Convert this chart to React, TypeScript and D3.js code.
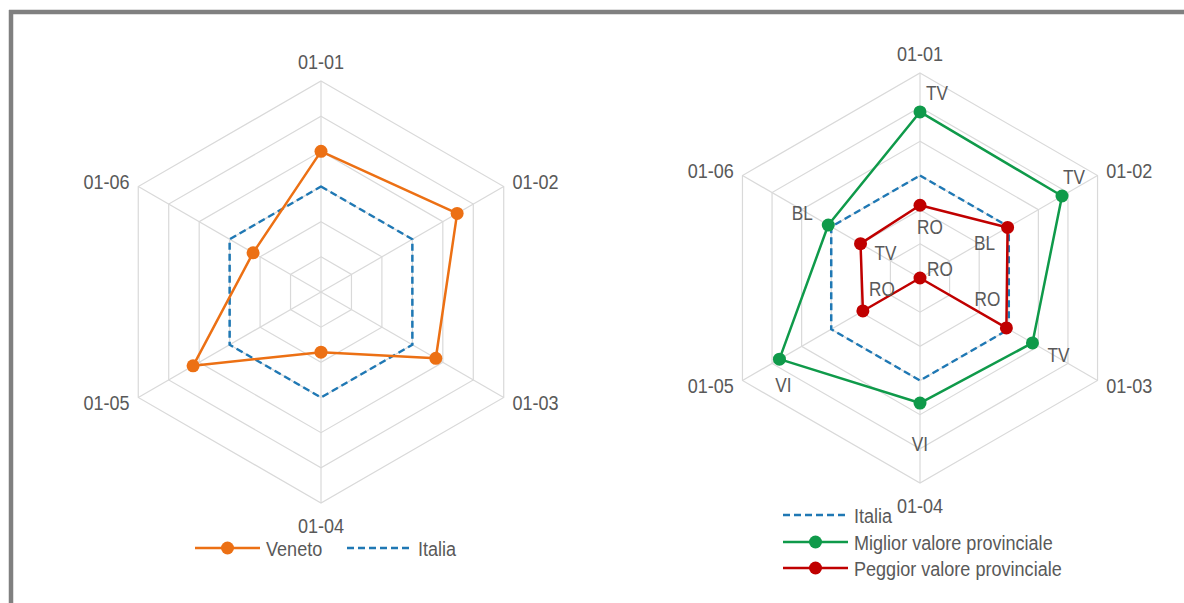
import React from "react";
import * as d3 from "d3";

// ---------- DATA ----------
const categories = ["01-01", "01-02", "01-03", "01-04", "01-05", "01-06"];
const veneto = [110, 114.7, 107.7, 87.1, 112, 92.3];
const italia = [100, 100, 100, 100, 100, 100];
const migliore = [118.6, 118, 108, 106.6, 117.5, 101];
const peggiore = [91.3, 99.6, 99.2, 70, 89.3, 90.1];
const miglioreProv = ["TV", "TV", "TV", "VI", "VI", "BL"];
const peggioreProv = ["RO", "BL", "RO", "RO", "RO", "TV"];
const ringTicks = [80, 90, 100, 110, 120, 130];
const domainMin = 70;
const domainMax = 130;

// ---------- LAYOUT / STYLE ----------
const W = 1184;
const H = 603;
const FONT = "'Liberation Sans Narrow', 'Arial Narrow', 'Liberation Sans', Arial, sans-serif";
const NARROW = 0.86; // horizontal squeeze to imitate a narrow face
const TEXT = "#595959";
const GRID = "#d9d9d9";
const C_ORANGE = "#ec7014";
const C_BLUE = "#1f78b4";
const C_GREEN = "#0f9a4a";
const C_RED = "#c00000";
const DASH = "7,4";
const LW = 2.5;
const MR = 6.5;

// label nudges (pixels) for province labels
const bestNudges: [number, number][] = [[17, -19], [12, -19], [26, 12], [0, 41], [4, 26], [-26, -12]];
const worstNudges: [number, number][] = [[10, 22], [-23, 15], [-19, -29], [20, -9], [19, -22], [25, 9]];

function NText({ x, y, anchor = "start", size = 21, children }: { x: number; y: number; anchor?: string; size?: number; children: React.ReactNode }) {
  return (
    <text
      transform={`translate(${x},${y}) scale(${NARROW},1)`}
      dy="0.36em"
      textAnchor={anchor}
      fontSize={size}
      fill={TEXT}
      fontFamily={FONT}
    >
      {children}
    </text>
  );
}

type Series = { values: number[]; color: string; dashed?: boolean; markers?: boolean; labels?: string[]; nudges?: [number, number][] };

function Radar({ cx, cy, R, series }: { cx: number; cy: number; R: number; series: Series[] }) {
  const n = categories.length;
  const r = d3.scaleLinear().domain([domainMin, domainMax]).range([0, R]);
  const angle = (i: number) => (i * 2 * Math.PI) / n;
  const pt = (i: number, v: number): [number, number] => {
    const a = angle(i);
    const rr = r(v);
    return [cx + rr * Math.sin(a), cy - rr * Math.cos(a)];
  };
  const radial = d3
    .lineRadial<number>()
    .angle((_, i) => angle(i))
    .radius((d) => r(d))
    .curve(d3.curveLinearClosed);

  return (
    <g>
      {ringTicks.map((t) => (
        <path
          key={t}
          d={radial(categories.map(() => t)) || ""}
          transform={`translate(${cx},${cy})`}
          fill="none"
          stroke={GRID}
          strokeWidth={1.2}
        />
      ))}
      {categories.map((c, i) => {
        const [x, y] = pt(i, domainMax);
        return <line key={c} x1={cx} y1={cy} x2={x} y2={y} stroke={GRID} strokeWidth={1.2} />;
      })}
      {categories.map((c, i) => {
        const a = angle(i);
        const s = Math.sin(a);
        const co = Math.cos(a);
        let x: number, y: number, anchor: string;
        if (Math.abs(s) < 0.01) {
          x = cx;
          y = co > 0 ? cy - R - 20 : cy + R + 22;
          anchor = "middle";
        } else {
          const d = R + 10;
          x = cx + d * s;
          y = cy - d * co;
          anchor = s > 0 ? "start" : "end";
        }
        return (
          <NText key={c} x={x} y={y} anchor={anchor}>
            {c}
          </NText>
        );
      })}
      {series.map((s, k) => (
        <g key={k}>
          <path
            d={radial(s.values) || ""}
            transform={`translate(${cx},${cy})`}
            fill="none"
            stroke={s.color}
            strokeWidth={LW}
            strokeDasharray={s.dashed ? DASH : undefined}
            strokeLinejoin="round"
          />
          {s.markers &&
            s.values.map((v, i) => {
              const [x, y] = pt(i, v);
              return <circle key={i} cx={x} cy={y} r={MR} fill={s.color} />;
            })}
          {s.labels &&
            s.values.map((v, i) => {
              const [x, y] = pt(i, v);
              const nd = s.nudges ? s.nudges[i] : [0, 0];
              return (
                <NText key={"l" + i} x={x + nd[0]} y={y + nd[1]} anchor="middle" size={20}>
                  {s.labels![i]}
                </NText>
              );
            })}
        </g>
      ))}
    </g>
  );
}

function LegendItem({ x, y, color, dashed, marker, label }: { x: number; y: number; color: string; dashed?: boolean; marker?: boolean; label: string }) {
  return (
    <g>
      <line x1={x} y1={y} x2={x + 65} y2={y} stroke={color} strokeWidth={LW} strokeDasharray={dashed ? DASH : undefined} />
      {marker && <circle cx={x + 32.5} cy={y} r={MR} fill={color} />}
      <NText x={x + 71} y={y}>
        {label}
      </NText>
    </g>
  );
}

export default function App() {
  return (
    <svg width={W} height={H} style={{ position: "absolute", left: 0, top: 0, background: "#fff" }}>
      <rect x={0} y={0} width={W} height={H} fill="#fff" />
      <line x1={9} y1={12} x2={W} y2={12} stroke="#808080" strokeWidth={4.5} />
      <line x1={11} y1={10} x2={11} y2={H} stroke="#808080" strokeWidth={4.5} />

      <Radar
        cx={321}
        cy={292}
        R={211}
        series={[
          { values: italia, color: C_BLUE, dashed: true },
          { values: veneto, color: C_ORANGE, markers: true },
        ]}
      />
      <LegendItem x={195} y={548} color={C_ORANGE} marker label="Veneto" />
      <LegendItem x={347} y={548} color={C_BLUE} dashed label="Italia" />

      <Radar
        cx={920}
        cy={278}
        R={205}
        series={[
          { values: italia, color: C_BLUE, dashed: true },
          { values: migliore, color: C_GREEN, markers: true, labels: miglioreProv, nudges: bestNudges },
          { values: peggiore, color: C_RED, markers: true, labels: peggioreProv, nudges: worstNudges },
        ]}
      />
      <LegendItem x={783} y={515} color={C_BLUE} dashed label="Italia" />
      <LegendItem x={783} y={542} color={C_GREEN} marker label="Miglior valore provinciale" />
      <LegendItem x={783} y={568} color={C_RED} marker label="Peggior valore provinciale" />
    </svg>
  );
}
